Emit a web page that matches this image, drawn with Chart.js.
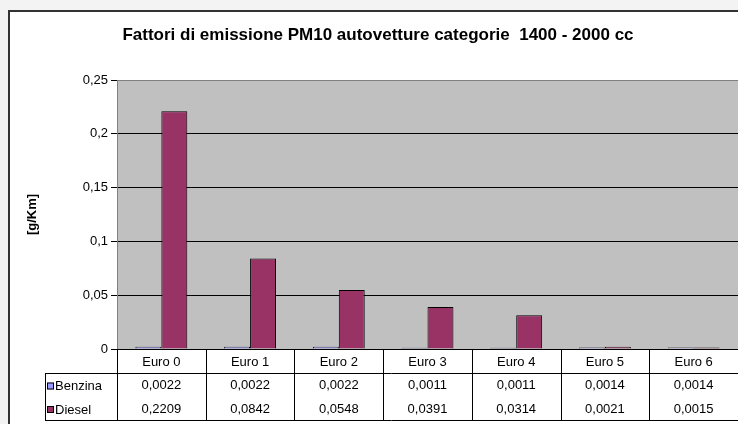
<!DOCTYPE html>
<html>
<head>
<meta charset="utf-8">
<script src="https://cdn.jsdelivr.net/npm/chart.js@4"></script>
<style>
  html, body { margin: 0; padding: 0; background: #f3f3f3; }
  canvas { display: block; }
</style>
</head>
<body>
<canvas id="pm10" width="738" height="424"></canvas>
<script>
const categories = ['Euro 0', 'Euro 1', 'Euro 2', 'Euro 3', 'Euro 4', 'Euro 5', 'Euro 6'];
const benzina = [0.0022, 0.0022, 0.0022, 0.0011, 0.0011, 0.0014, 0.0014];
const diesel = [0.2209, 0.0842, 0.0548, 0.0391, 0.0314, 0.0021, 0.0015];
const seriesNames = ['Benzina', 'Diesel'];
const colors = ['#9999ff', '#993366'];
const font = "'Liberation Sans', Arial, sans-serif";

const fmt4 = v => v.toFixed(4).replace('.', ',');

// frame, gray plot area, title and the data table under the axis
const excelLook = {
  id: 'excelLook',
  beforeDraw(chart) {
    const c = chart.ctx, a = chart.chartArea;
    c.save();
    c.fillStyle = '#f3f3f3';
    c.fillRect(0, 0, chart.width, chart.height);
    c.fillStyle = '#ffffff';
    c.fillRect(8, 10, chart.width, chart.height);
    c.strokeStyle = '#333333';
    c.lineWidth = 2;
    c.strokeRect(9, 11, chart.width + 10, chart.height + 10);
    c.fillStyle = '#c0c0c0';
    c.fillRect(a.left, a.top, a.right - a.left, a.bottom - a.top);
    c.fillStyle = '#000';
    c.font = 'bold 17px ' + font;
    c.textAlign = 'center';
    c.textBaseline = 'middle';
    c.fillText('Fattori di emissione PM10 autovetture categorie  1400 - 2000 cc', 378, 35);
    c.restore();
  },
  afterDraw(chart) {
    const c = chart.ctx, a = chart.chartArea, x = chart.scales.x;
    const w = (a.right - a.left) / categories.length;
    const r0 = a.bottom, r1 = r0 + 24, r2 = r1 + 23, r3 = r2 + 24;
    const legL = 45;
    c.save();
    c.strokeStyle = '#000';
    c.lineWidth = 1;
    c.beginPath();
    c.moveTo(a.left, r0 + 0.5); c.lineTo(a.right, r0 + 0.5);
    c.moveTo(legL, r1 + 0.5); c.lineTo(a.right, r1 + 0.5);
    c.moveTo(legL, r3 + 0.5); c.lineTo(a.right, r3 + 0.5);
    c.moveTo(legL + 0.5, r1); c.lineTo(legL + 0.5, r3);
    for (let i = 0; i <= categories.length; i++) {
      const px = Math.round(a.left + i * w) + 0.5;
      c.moveTo(px, r0); c.lineTo(px, r3);
    }
    c.stroke();
    c.fillStyle = '#000';
    c.font = '13px ' + font;
    c.textAlign = 'center';
    c.textBaseline = 'middle';
    categories.forEach((cat, i) => {
      const cx = x.getPixelForValue(i);
      c.fillText(cat, cx, (r0 + r1) / 2 + 1);
      c.fillText(fmt4(benzina[i]), cx, (r1 + r2) / 2 + 1);
      c.fillText(fmt4(diesel[i]), cx, (r2 + r3) / 2 + 1);
    });
    const rowsY = [(r1 + r2) / 2, (r2 + r3) / 2];
    c.textAlign = 'left';
    seriesNames.forEach((name, k) => {
      const y = rowsY[k] + 1;
      c.fillStyle = colors[k];
      c.fillRect(47, y - 3, 7, 7);
      c.strokeStyle = '#000';
      c.strokeRect(47.5, y - 2.5, 6, 6);
      c.fillStyle = '#000';
      c.fillText(name, 55, y + 1);
    });
    c.restore();
  }
};

new Chart(document.getElementById('pm10'), {
  type: 'bar',
  data: {
    labels: categories,
    datasets: [
      { label: seriesNames[0], data: benzina, backgroundColor: colors[0], borderColor: '#000', borderWidth: 1 },
      { label: seriesNames[1], data: diesel, backgroundColor: colors[1], borderColor: '#000', borderWidth: 1 }
    ]
  },
  options: {
    responsive: false,
    animation: false,
    devicePixelRatio: 1,
    layout: { padding: { left: 0, top: 80, right: 0, bottom: 75 } },
    datasets: { bar: { categoryPercentage: 0.585, barPercentage: 1 } },
    plugins: { legend: { display: false }, tooltip: { enabled: false } },
    scales: {
      x: { display: false },
      y: {
        min: 0,
        max: 0.25,
        afterFit: s => { s.width = 117; },
        border: { display: true, color: '#808080', width: 1 },
        grid: {
          color: ctx => ctx.tick && ctx.tick.value === 0.25 ? '#808080' : '#000',
          tickColor: '#000',
          tickLength: 6
        },
        ticks: {
          stepSize: 0.05,
          padding: 3,
          color: '#000',
          font: { family: font, size: 13 },
          callback: v => String(+v.toFixed(2)).replace('.', ',')
        },
        title: {
          display: true,
          text: '[g/Km]',
          color: '#000',
          font: { family: font, size: 13, weight: 'bold' },
          padding: { top: 25, bottom: 0 }
        }
      }
    }
  },
  plugins: [excelLook]
});
</script>
</body>
</html>
